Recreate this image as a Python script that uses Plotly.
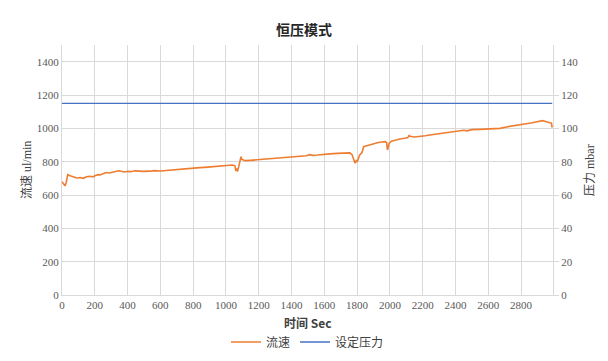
import plotly.graph_objects as go

# Flow (ul/min) vs time (Sec)
flow_t = [0, 8, 18, 25, 35, 50, 70, 90, 110, 130, 150, 170, 190, 200, 220, 232, 250, 270, 290, 310,
          323, 345, 360, 384, 400, 420, 445, 470, 500, 537, 560, 600, 640, 659, 690, 720, 750, 780,
          810, 840, 870, 900, 930, 960, 990, 1020, 1040, 1055, 1060, 1065, 1070, 1078, 1085, 1092,
          1096, 1116, 1150, 1207, 1250, 1290, 1329, 1370, 1410, 1451, 1490, 1512, 1530, 1560, 1600,
          1634, 1680, 1720, 1756, 1770, 1780, 1787, 1795, 1800, 1810, 1817, 1830, 1840, 1848, 1870,
          1890, 1909, 1930, 1950, 1970, 1980, 1985, 1988, 1995, 2012, 2040, 2060, 2091, 2110, 2118,
          2122, 2150, 2183, 2215, 2244, 2280, 2320, 2366, 2400, 2450, 2470, 2500, 2549, 2600, 2640,
          2671, 2720, 2760, 2793, 2830, 2860, 2890, 2915, 2930, 2945, 2960, 2975, 2985, 2990]
flow_v = [680, 665, 655, 672, 722, 715, 708, 702, 705, 700, 710, 712, 708, 715, 722, 720, 728, 735, 732, 738,
          740, 745, 742, 738, 742, 740, 745, 743, 742, 743, 746, 744, 748, 750, 752, 755, 758, 760,
          762, 764, 766, 768, 770, 772, 775, 778, 780, 775, 745, 760, 740, 770, 800, 830,
          815, 806, 808, 812, 815, 820, 822, 826, 828, 832, 835, 842, 838, 840, 845,
          847, 850, 852, 853, 840, 810, 792, 805, 798, 825, 842, 855, 890, 893, 900,
          905, 913, 915, 918, 920, 915, 870, 879, 910, 924, 930, 936, 940, 945, 960,
          952, 948, 950, 955, 960, 965, 970, 978, 982, 988, 985, 992, 994, 998, 1002,
          1000, 1010, 1015, 1021, 1028, 1032, 1038, 1041, 1046, 1042, 1036, 1034, 1032, 1005]

# Set pressure (mbar)
press_t = [0, 100, 200, 300, 400, 500, 600, 700, 800, 900, 1000, 1100, 1200, 1300, 1400, 1500,
           1600, 1700, 1800, 1900, 2000, 2100, 2200, 2300, 2400, 2500, 2600, 2700, 2800, 2900, 2990]
press_v = [115, 115, 115.1, 115, 115, 115.1, 115, 115, 115, 115.1, 115, 115, 115, 115.1, 115, 115,
           115, 115.1, 115, 115, 115, 115, 115.1, 115, 115, 115, 115.1, 115, 115, 115, 115]

x_ticks = list(range(0, 2801, 200))
y_ticks = list(range(0, 1401, 200))
y2_ticks = list(range(0, 141, 20))

serif = "Liberation Serif, Times New Roman, serif"
serif_cjk = "Liberation Serif, Noto Sans CJK SC, serif"
cjk = "Noto Sans CJK SC, sans-serif"
grid = "#d9d9d9"
tickc = "#595959"

W, H = 608, 361
L, R, T, B = 62, 55, 45, 66

fig = go.Figure()
fig.add_trace(go.Scatter(x=flow_t, y=flow_v, mode="lines", name="流速",
                         line=dict(color="#ED7D31", width=1.6), yaxis="y"))
fig.add_trace(go.Scatter(x=press_t, y=press_v, mode="lines", name="设定压力",
                         line=dict(color="#4472C4", width=1.4), yaxis="y2"))

fig.update_layout(
    width=W, height=H,
    margin=dict(l=L, r=R, t=T, b=B, autoexpand=False),
    paper_bgcolor="white", plot_bgcolor="white",
    title=dict(text="<b>恒压模式</b>", x=0.5, xanchor="center", y=1 - 30 / H, yanchor="middle",
               yref="container", font=dict(family=cjk, size=14, color="#262626")),
    xaxis=dict(range=[0, 2995], tickvals=x_ticks, showgrid=True, gridcolor=grid, gridwidth=1,
               showline=True, linecolor=grid, zeroline=False, ticks="", automargin=False,
               tickfont=dict(family=serif, size=11, color=tickc)),
    yaxis=dict(range=[0, 1500], tickvals=y_ticks, showgrid=True, gridcolor=grid, gridwidth=1,
               showline=True, linecolor=grid, zeroline=False, ticks="", automargin=False,
               tickfont=dict(family=serif, size=11, color=tickc)),
    yaxis2=dict(range=[0, 150], tickvals=y2_ticks, overlaying="y", side="right", showgrid=False,
                showline=True, linecolor=grid, zeroline=False, ticks="outside", ticklen=5,
                tickcolor=grid, automargin=False,
                tickfont=dict(family=serif, size=11, color=tickc)),
    legend=dict(orientation="h", x=0.5, xanchor="center", y=1 - 342 / H, yanchor="middle",
                yref="container", font=dict(family=cjk, size=12, color="#404040"),
                itemwidth=30, tracegroupgap=0),
    showlegend=True,
    annotations=[
        dict(text="<b>时间 Sec</b>", xref="paper", yref="paper", x=0.5, y=-(322 - (H - B)) / (H - T - B),
             xanchor="center", yanchor="middle", showarrow=False,
             font=dict(family=cjk, size=12, color="#404040")),
        dict(text="流速 ul/min", xref="paper", yref="paper", x=-(L - 27) / (W - L - R), y=0.5,
             xanchor="center", yanchor="middle", textangle=-90, showarrow=False,
             font=dict(family=serif_cjk, size=12, color="#404040")),
        dict(text="压力 mbar", xref="paper", yref="paper", x=1 + (590 - (W - R)) / (W - L - R), y=0.5,
             xanchor="center", yanchor="middle", textangle=-90, showarrow=False,
             font=dict(family=serif_cjk, size=12, color="#404040")),
    ],
)

fig.write_html("out.html", config={"displayModeBar": False},
               post_script="document.body.style.margin='0';document.body.style.overflow='hidden';")
